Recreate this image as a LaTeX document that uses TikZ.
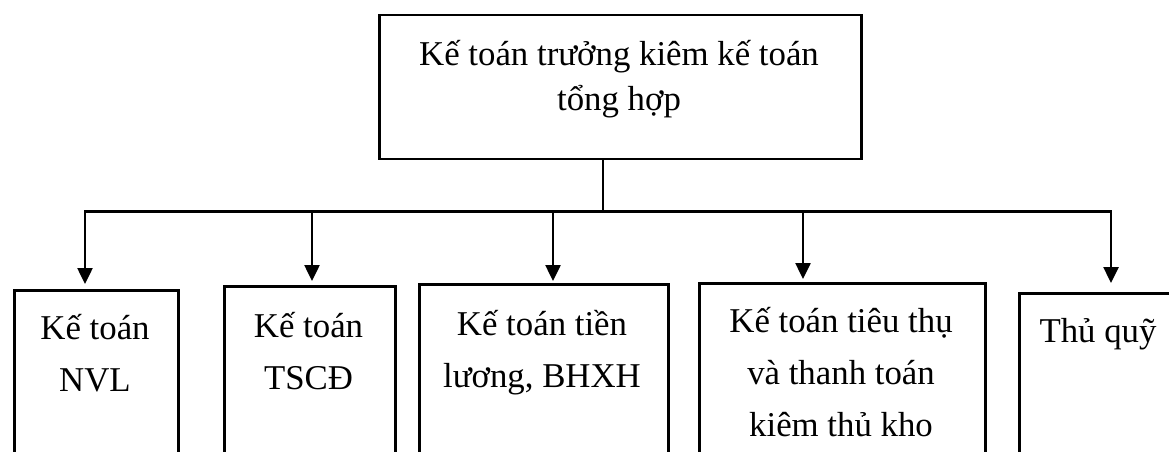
\documentclass[tikz,border=0pt]{standalone}
\usepackage{fontspec}
\setmainfont{Liberation Serif}
\usetikzlibrary{arrows.meta}
% fixed first-line height so every label can be placed by its first baseline
\newcommand\lineht{\rule{0pt}{36pt}}

\begin{document}
\begin{tikzpicture}[x=1pt,y=-1pt,
  box/.style={draw,line width=2.5pt,rectangle,inner sep=0pt,anchor=north west},
  lbl/.style={inner sep=0pt,align=center,anchor=north,font=\fontsize{34.8}{52}\selectfont},
  headlbl/.style={lbl,font=\fontsize{34.8}{45}\selectfont},
  link/.style={line width=2.5pt},
  arr/.style={line width=2.5pt,-{Triangle[width=15pt,length=16pt]}}]
\useasboundingbox (0,0) rectangle (1169,451);
\clip (0,0) rectangle (1169,451);

% boxes
\node[box,minimum width=482pt,minimum height=144pt] (head) at (378,13.5) {};
\node[box,minimum width=164pt,minimum height=200pt] (nvl)  at (13,289) {};
\node[box,minimum width=171pt,minimum height=200pt] (tscd) at (223,285) {};
\node[box,minimum width=249pt,minimum height=200pt] (luong) at (418,283) {};
\node[box,minimum width=286pt,minimum height=200pt] (tieuthu) at (698,282) {};
\node[box,minimum width=180pt,minimum height=200pt] (quy) at (1018,292) {};

% labels
\node[headlbl] (thead) at (619,29) {\lineht Kế toán trưởng kiêm kế toán\\\lineht tổng hợp};
\node[lbl] (tnvl) at (95,303) {\lineht Kế toán\\\lineht NVL};
\node[lbl] (ttscd) at (308.5,301) {\lineht Kế toán\\\lineht TSCĐ};
\node[lbl] (tluong) at (542,299) {\lineht Kế toán tiền\\\lineht lương, BHXH};
\node[lbl] (ttieuthu) at (841,296) {\lineht Kế toán tiêu thụ\\\lineht và thanh toán\\\lineht kiêm thủ kho};
\node[lbl] (tquy) at (1098,306) {\lineht Thủ quỹ};

% distribution bus
\coordinate (stem) at (603,211.5);
\coordinate (b1) at (85,211.5);
\coordinate (b2) at (312,211.5);
\coordinate (b3) at (553,211.5);
\coordinate (b4) at (803,211.5);
\coordinate (b5) at (1111,211.5);

\draw[link] (stem |- head.south) -- (stem);
\draw[link,line cap=rect] (b1) -- (b5);

\draw[arr,shorten >=5pt] (b1) -- (b1 |- nvl.north);
\draw[arr,shorten >=4pt] (b2) -- (b2 |- tscd.north);
\draw[arr,shorten >=2pt] (b3) -- (b3 |- luong.north);
\draw[arr,shorten >=3pt] (b4) -- (b4 |- tieuthu.north);
\draw[arr,shorten >=9pt] (b5) -- (b5 |- quy.north);
\end{tikzpicture}
\end{document}
